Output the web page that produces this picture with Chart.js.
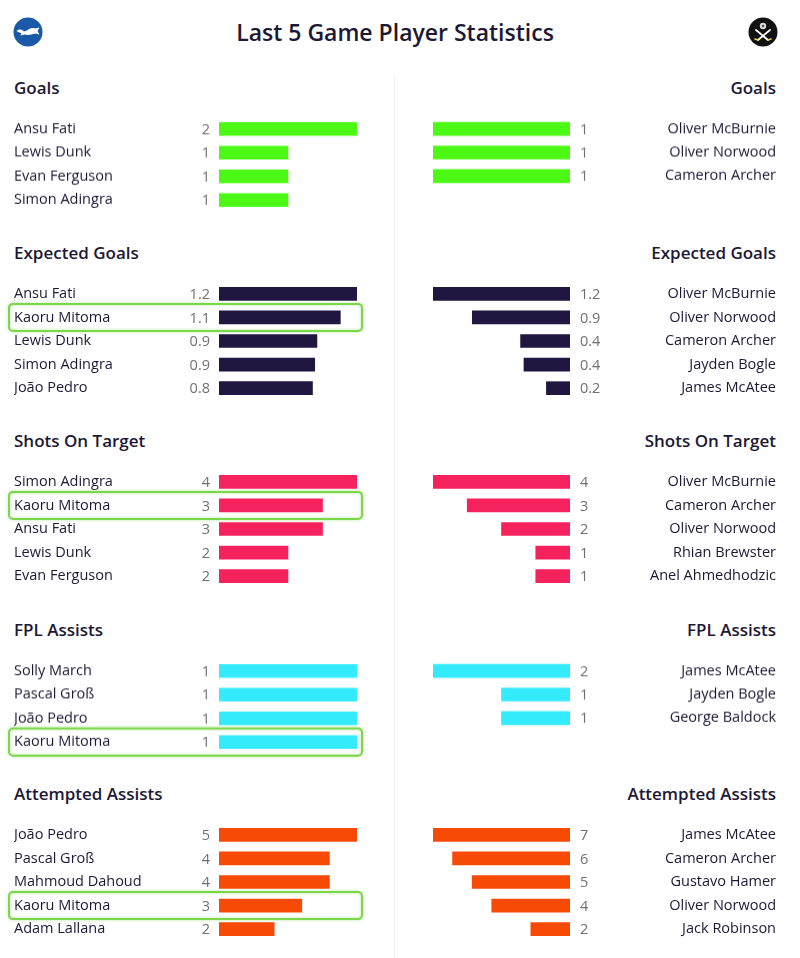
<!DOCTYPE html>
<html>
<head>
<meta charset="utf-8">
<title>Last 5 Game Player Statistics</title>
<script src="https://cdn.jsdelivr.net/npm/chart.js@4.4.1/dist/chart.umd.min.js"></script>
<style>
  html, body { margin: 0; padding: 0; background: #fff; }
  #page { position: relative; width: 800px; height: 958px; overflow: hidden; font-family: 'Open Sans', sans-serif; color: #1d1835; }
  #title { position: absolute; left: 0; width: 790px; top: 14px; text-align: center; font-size: 23px; font-weight: 600; line-height: 36px; }
  .logo { position: absolute; top: 17px; }
  #divider { position: absolute; left: 394px; top: 76px; width: 1px; height: 882px; background: #efefef; }
  .heading { position: absolute; font-size: 17px; font-weight: 600; line-height: 24px; }
  .heading.left { left: 14px; }
  .heading.right { right: 24px; text-align: right; }
  canvas { position: absolute; }
</style>
</head>
<body>
<div id="page">
  <div id="title">Last 5 Game Player Statistics</div>
  <svg class="logo" style="left:13px" width="30" height="30" viewBox="0 0 30 30">
    <circle cx="15" cy="15" r="14.5" fill="#1c58a8"/>
    <path d="M3.5 14 C7 11.5 9 12.5 11 14.5 L14 13.5 C16 11.5 19 10.5 22 11.5 L26.5 10.5 L24.5 14 L26.5 17.5 L22 16.5 C19 17.5 15 18.5 12 17.5 L7.5 18.5 L8.5 16.3 C6.5 15.3 5 15 3.5 14 Z" fill="#fff"/>
  </svg>
  <svg class="logo" style="left:748px" width="30" height="30" viewBox="0 0 30 30">
    <circle cx="15" cy="15" r="14.5" fill="#111"/>
    <circle cx="15" cy="9" r="3.2" fill="#ddd"/>
    <circle cx="15" cy="9" r="1.3" fill="#555"/>
    <path d="M8 13 L20 23 M22 13 L10 23" stroke="#fff" stroke-width="1.8" stroke-linecap="round"/>
    <path d="M7 22 L10 23 M23 22 L20 23" stroke="#e8d64a" stroke-width="1.6" stroke-linecap="round"/>
  </svg>
  <div id="divider"></div>
</div>
<script>
// Section titles and bar colours
const sectionTitles = ['Goals', 'Expected Goals', 'Shots On Target', 'FPL Assists', 'Attempted Assists'];
const sectionColors = ['#4cf914', '#201640', '#f5225e', '#33ebfb', '#f84a07'];
const sectionDecimals = [0, 1, 0, 0, 0];

// Brighton (left)
const bhaGoalsPlayers = ['Ansu Fati', 'Lewis Dunk', 'Evan Ferguson', 'Simon Adingra'];
const bhaGoalsValues  = [2, 1, 1, 1];
const bhaXgPlayers    = ['Ansu Fati', 'Kaoru Mitoma', 'Lewis Dunk', 'Simon Adingra', 'João Pedro'];
const bhaXgValues     = [1.24, 1.09, 0.88, 0.86, 0.84];
const bhaSotPlayers   = ['Simon Adingra', 'Kaoru Mitoma', 'Ansu Fati', 'Lewis Dunk', 'Evan Ferguson'];
const bhaSotValues    = [4, 3, 3, 2, 2];
const bhaFplPlayers   = ['Solly March', 'Pascal Groß', 'João Pedro', 'Kaoru Mitoma'];
const bhaFplValues    = [1, 1, 1, 1];
const bhaAaPlayers    = ['João Pedro', 'Pascal Groß', 'Mahmoud Dahoud', 'Kaoru Mitoma', 'Adam Lallana'];
const bhaAaValues     = [5, 4, 4, 3, 2];

// Sheffield United (right)
const shuGoalsPlayers = ['Oliver McBurnie', 'Oliver Norwood', 'Cameron Archer'];
const shuGoalsValues  = [1, 1, 1];
const shuXgPlayers    = ['Oliver McBurnie', 'Oliver Norwood', 'Cameron Archer', 'Jayden Bogle', 'James McAtee'];
const shuXgValues     = [1.22, 0.87, 0.44, 0.41, 0.21];
const shuSotPlayers   = ['Oliver McBurnie', 'Cameron Archer', 'Oliver Norwood', 'Rhian Brewster', 'Anel Ahmedhodzic'];
const shuSotValues    = [4, 3, 2, 1, 1];
const shuFplPlayers   = ['James McAtee', 'Jayden Bogle', 'George Baldock'];
const shuFplValues    = [2, 1, 1];
const shuAaPlayers    = ['James McAtee', 'Cameron Archer', 'Gustavo Hamer', 'Oliver Norwood', 'Jack Robinson'];
const shuAaValues     = [7, 6, 5, 4, 2];

const highlightPlayer = 'Kaoru Mitoma';

(function () {
  'use strict';

  const bha = [
    [bhaGoalsPlayers, bhaGoalsValues], [bhaXgPlayers, bhaXgValues], [bhaSotPlayers, bhaSotValues],
    [bhaFplPlayers, bhaFplValues], [bhaAaPlayers, bhaAaValues]
  ];
  const shu = [
    [shuGoalsPlayers, shuGoalsValues], [shuXgPlayers, shuXgValues], [shuSotPlayers, shuSotValues],
    [shuFplPlayers, shuFplValues], [shuAaPlayers, shuAaValues]
  ];

  // ── Layout ───────────────────────────────────────
  const headingY = [88, 253, 441, 630, 794];
  const ROW = 23.6;
  const PAD = 14;   // must exceed half a tick label height, or chart.js shrinks the area
  const TEXT = '#1d1835';
  const FONT = "'Open Sans', sans-serif";

  const page = document.getElementById('page');

  // value labels next to the bar base
  const valueLabels = {
    id: 'valueLabels',
    afterDatasetsDraw(chart, args, opts) {
      const { ctx, chartArea } = chart;
      const meta = chart.getDatasetMeta(0);
      ctx.save();
      ctx.font = '400 14.5px ' + FONT;
      ctx.fillStyle = '#707070';
      ctx.textBaseline = 'middle';
      meta.data.forEach((bar, i) => {
        const v = chart.data.datasets[0].data[i];
        const txt = v.toFixed(opts.decimals);
        if (opts.side === 'left') {
          ctx.textAlign = 'right';
          ctx.fillText(txt, chartArea.left - 9, bar.y + 1);
        } else {
          ctx.textAlign = 'left';
          ctx.fillText(txt, chartArea.right + 10, bar.y + 1);
        }
      });
      ctx.restore();
    }
  };

  // green box around the highlighted player
  const highlight = {
    id: 'highlight',
    afterDraw(chart, args, opts) {
      if (opts.side !== 'left') return;
      const { ctx } = chart;
      const meta = chart.getDatasetMeta(0);
      chart.data.labels.forEach((name, i) => {
        if (name !== highlightPlayer) return;
        const y = meta.data[i].y;
        ctx.save();
        ctx.strokeStyle = '#7cd64a';
        ctx.lineWidth = 2;
        ctx.shadowColor = 'rgba(124,214,74,0.6)';
        ctx.shadowBlur = 3;
        ctx.beginPath();
        ctx.roundRect(9, y - 13.5, 353, 27, 4);
        ctx.stroke();
        ctx.restore();
      });
    }
  };

  function makeChart(players, values, color, decimals, side, top) {
    const left = side === 'left';
    const canvas = document.createElement('canvas');
    const w = left ? 395 : 405;
    const h = players.length * ROW + PAD * 2;
    canvas.width = w;
    canvas.height = h;
    canvas.style.left = (left ? 0 : 395) + 'px';
    canvas.style.top = top + 'px';
    canvas.style.width = w + 'px';
    canvas.style.height = h + 'px';
    page.appendChild(canvas);

    return new Chart(canvas, {
      type: 'bar',
      data: {
        labels: players,
        datasets: [{ data: values, backgroundColor: color, barThickness: 13, borderWidth: 0 }]
      },
      options: {
        indexAxis: 'y',
        responsive: false,
        animation: false,
        layout: {
          padding: left
            ? { left: 14, right: 38, top: PAD, bottom: PAD }
            : { left: 38, right: 24, top: PAD, bottom: PAD }
        },
        plugins: {
          legend: { display: false },
          tooltip: { enabled: false },
          valueLabels: { decimals, side },
          highlight: { side }
        },
        scales: {
          x: { display: false, min: 0, max: Math.max(...values), reverse: !left },
          y: {
            position: left ? 'left' : 'right',
            grid: { display: false, drawTicks: false },
            border: { display: false },
            ticks: {
              crossAlign: 'far',
              autoSkip: false,
              padding: 0,
              color: TEXT,
              font: { family: FONT, size: 14.5, weight: '500' }
            },
            afterFit: s => { s.width = left ? 205 : 206; }
          }
        }
      },
      plugins: [valueLabels, highlight]
    });
  }

  sectionTitles.forEach((title, i) => {
    ['left', 'right'].forEach(side => {
      const hd = document.createElement('div');
      hd.className = 'heading ' + side;
      hd.style.top = (headingY[i] - 12) + 'px';
      hd.textContent = title;
      page.appendChild(hd);
    });
    const top = headingY[i] + 41 - ROW / 2 - PAD;
    makeChart(bha[i][0], bha[i][1], sectionColors[i], sectionDecimals[i], 'left', top);
    makeChart(shu[i][0], shu[i][1], sectionColors[i], sectionDecimals[i], 'right', top);
  });
})();
</script>
</body>
</html>
